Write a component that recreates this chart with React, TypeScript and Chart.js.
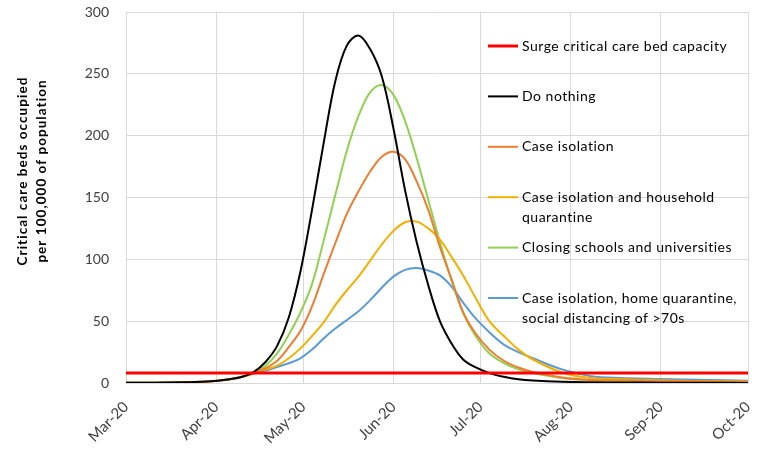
import { useEffect, useRef } from "react";
import { Chart, registerables } from "chart.js";

Chart.register(...registerables);

// Days since 1 March 2020
const days = [0, 10, 20, 28, 35, 40, 44, 48, 52, 56, 60, 64, 68, 72, 76, 80, 84, 88, 92, 96, 100, 104, 108, 112, 116, 120, 125, 130, 135, 140, 150, 160, 170, 184, 200, 214];

const doNothing = [0.2, 0.3, 0.6, 1.2, 2.8, 5, 9, 17, 30, 53, 90, 140, 194, 244, 273, 281, 270, 248, 206, 156, 114, 79, 50, 32, 19, 13, 8, 5, 3, 2, 1, 0.6, 0.4, 0.3, 0.2, 0.1];
const caseIsolation = [0.2, 0.3, 0.6, 1.2, 2.8, 5, 8, 12, 18, 29, 42, 62, 88, 113, 137, 155, 171, 183, 187, 181, 163, 140, 110, 84, 57, 41, 27, 18, 12.5, 9, 4.5, 2.5, 2, 1.5, 1.2, 1];
const householdQuarantine = [0.2, 0.3, 0.6, 1.2, 2.8, 5, 8, 11, 14, 20, 28, 38, 49, 63, 75, 86, 99, 112, 123, 130, 130.5, 125, 116, 102, 87, 70, 50, 38, 27, 19, 8.5, 4, 3, 2.2, 1.5, 1.2];
const closingSchools = [0.2, 0.3, 0.6, 1.2, 2.8, 5, 8.5, 14, 24, 39, 57, 80, 115, 152, 188, 216, 235, 241, 233, 212, 182, 148, 114, 83, 57, 39, 24, 16, 11, 8, 4, 2.2, 1.8, 1.5, 1.2, 1];
const socialDistancing = [0.2, 0.3, 0.6, 1.2, 2.8, 5, 7.5, 10, 13, 16, 20, 27, 36, 44, 51, 58, 67, 77, 86, 91.5, 93, 91, 87, 78, 65, 53, 41, 31, 25, 20, 11, 5.5, 4, 3.3, 2.5, 1.8];

const capacityDays = [0, 214];
const surgeCapacity = [8, 8];

const monthDays = [0, 31, 61, 92, 122, 153, 184, 214];
const monthLabels = ["Mar-20", "Apr-20", "May-20", "Jun-20", "Jul-20", "Aug-20", "Sep-20", "Oct-20"];

const legendLines = [
  ["Surge critical care bed capacity"],
  ["Do nothing"],
  ["Case isolation"],
  ["Case isolation and household", "quarantine"],
  ["Closing schools and universities"],
  ["Case isolation, home quarantine,", "social distancing of >70s"],
];

const yTitleLines = ["Critical care beds occupied", "per 100,000 of population"];

const colors = ["#FF0000", "#000000", "#ED7D31", "#F2B000", "#92D050", "#5B9BD5"];
const seriesValues = [doNothing, caseIsolation, householdQuarantine, closingSchools, socialDistancing];

const FONT = "Lato, 'Noto Sans', sans-serif";

const legendPlugin = {
  id: "customLegend",
  afterDraw(chart: any) {
    const ctx = chart.ctx;
    const { left, top } = chart.chartArea;
    ctx.save();
    ctx.font = `14px ${FONT}`;
    (ctx as any).letterSpacing = "0.5px";
    ctx.textBaseline = "middle";
    ctx.textAlign = "left";
    chart.data.datasets.forEach((ds: any, i: number) => {
      const x = left + 362;
      const y = top + 34 + i * 50.4;
      ctx.strokeStyle = ds.borderColor;
      ctx.lineWidth = i === 0 ? 3 : 2;
      ctx.beginPath();
      ctx.moveTo(x, y);
      ctx.lineTo(x + 30, y);
      ctx.stroke();
      ctx.fillStyle = "#000000";
      legendLines[i].forEach((line, j) => ctx.fillText(line, x + 34, y + j * 20.5));
    });
    ctx.restore();
  },
};

const yTitlePlugin = {
  id: "yTitle",
  afterDraw(chart: any) {
    const ctx = chart.ctx;
    ctx.save();
    ctx.translate(23, 171);
    ctx.rotate(-Math.PI / 2);
    ctx.font = `bold 13.5px ${FONT}`;
    (ctx as any).letterSpacing = "1.05px";
    ctx.fillStyle = "#000000";
    ctx.textAlign = "center";
    ctx.textBaseline = "middle";
    yTitleLines.forEach((line, j) => ctx.fillText(line, 0, j * 19));
    ctx.restore();
  },
};

export default function App() {
  const ref = useRef<HTMLCanvasElement>(null);

  useEffect(() => {
    if (!ref.current) return;
    const datasets: any[] = [
      {
        label: legendLines[0].join(" "),
        data: capacityDays.map((d, i) => ({ x: d, y: surgeCapacity[i] })),
        borderColor: colors[0],
        borderWidth: 3,
      },
      ...seriesValues.map((vals, k) => ({
        label: legendLines[k + 1].join(" "),
        data: days.map((d, i) => ({ x: d, y: vals[i] })),
        borderColor: colors[k + 1],
        borderWidth: 2,
      })),
    ].map((ds) => ({
      ...ds,
      pointRadius: 0,
      fill: false,
      tension: 0.35,
    }));

    const chart = new Chart(ref.current, {
      type: "line",
      data: { datasets },
      options: {
        animation: false,
        responsive: false,
        layout: { padding: { top: 12, right: 15, left: 0, bottom: 0 } },
        plugins: { legend: { display: false }, tooltip: { enabled: false } },
        scales: {
          x: {
            type: "linear",
            min: 0,
            max: 214,
            afterBuildTicks: (scale: any) => {
              scale.ticks = monthDays.map((v) => ({ value: v }));
            },
            afterFit: (scale: any) => {
              scale.height = 88;
              scale.paddingLeft = 0;
              scale.paddingRight = 0;
            },
            ticks: {
              minRotation: 45,
              maxRotation: 45,
              padding: 15,
              color: "#404040",
              font: { family: FONT, size: 15 },
              callback: (v: any) => {
                const idx = monthDays.indexOf(Number(v));
                return idx >= 0 ? monthLabels[idx] : "";
              },
            },
            grid: { color: "#d9d9d9", lineWidth: 1, drawTicks: false },
            border: { color: "#d9d9d9" },
          },
          y: {
            min: 0,
            max: 300,
            afterFit: (scale: any) => {
              scale.width = 126;
              scale.paddingTop = 0;
              scale.paddingBottom = 0;
            },
            ticks: {
              stepSize: 50,
              padding: 17,
              color: "#404040",
              font: { family: FONT, size: 14 },
            },
            grid: { color: "#d9d9d9", lineWidth: 1, drawTicks: false },
            border: { color: "#d9d9d9" },
          },
        },
      },
      plugins: [legendPlugin, yTitlePlugin],
    } as any);
    return () => chart.destroy();
  }, []);

  return (
    <div style={{ position: "absolute", left: 0, top: 0, width: 763, height: 471, background: "#ffffff" }}>
      <canvas ref={ref} width={763} height={471} />
    </div>
  );
}
